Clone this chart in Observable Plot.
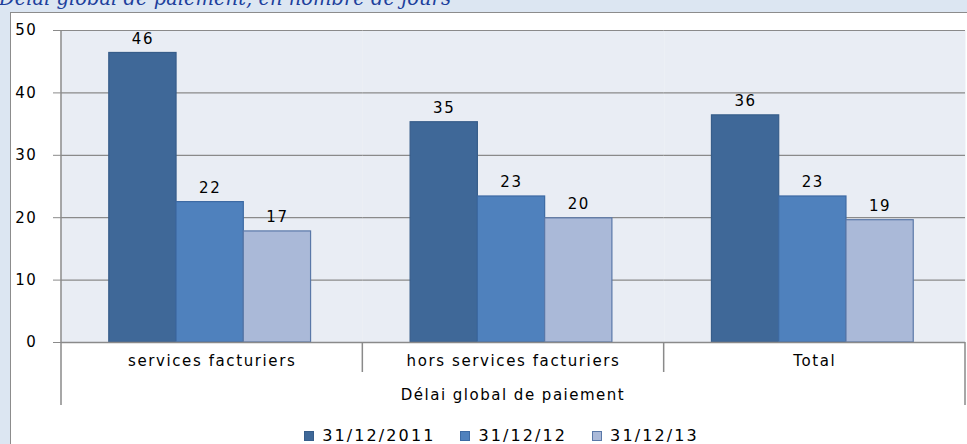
<!DOCTYPE html>
<html>
<head>
<meta charset="utf-8">
<script src="https://cdn.jsdelivr.net/npm/d3@7"></script>
<script src="https://cdn.jsdelivr.net/npm/@observablehq/plot@0.6"></script>
<style>
html,body{margin:0;padding:0;background:#dce6f2;}
#wrap{position:relative;width:967px;height:444px;overflow:hidden;background:#dce6f2;font-family:"DejaVu Sans",sans-serif;}
#panel{position:absolute;left:10px;top:12px;width:960px;height:440px;background:#fff;border-left:1px solid #8c8c8c;border-top:1px solid #8c8c8c;}
#title{position:absolute;left:-1px;top:-11px;line-height:20px;font:italic 19.5px/20px "DejaVu Serif",serif;color:#203f9c;white-space:nowrap;}
#chart{position:absolute;left:0;top:0;}
#xlabel{position:absolute;left:61px;width:904px;top:386px;text-align:center;font-size:15px;letter-spacing:1.5px;color:#000;}
#legend{position:absolute;left:18px;width:967px;top:426px;display:flex;justify-content:center;gap:25px;font-size:16px;letter-spacing:2.1px;color:#000;}
#legend .item{display:flex;align-items:center;gap:8px;}
#legend .sw{width:10px;height:10px;box-sizing:border-box;border:1px solid #365f8f;}
</style>
</head>
<body>
<div id="wrap">
  <div id="panel"></div>
  <div id="chart"></div>
  <div id="title">Délai global de paiement, en nombre de jours</div>
  <div id="xlabel">Délai global de paiement</div>
  <div id="legend"></div>
</div>
<script>
const categories = ["services facturiers", "hors services facturiers", "Total"];
const series = ["31/12/2011", "31/12/12", "31/12/13"];
const values2011 = [46.4, 35.3, 36.4];
const values2012 = [22.5, 23.4, 23.4];
const values2013 = [17.8, 19.9, 19.6];
const labels2011 = ["46", "35", "36"];
const labels2012 = ["22", "23", "23"];
const labels2013 = ["17", "20", "19"];
const yTicks = [0, 10, 20, 30, 40, 50];

const fills = ["#3f6898", "#4f81bd", "#aab9d8"];
const strokes = ["#375d8a", "#3d6aa3", "#5a78a8"];

const allValues = [values2011, values2012, values2013];
const allLabels = [labels2011, labels2012, labels2013];
const rows = [];
series.forEach((s, si) => {
  categories.forEach((c, ci) => {
    rows.push({cat: c, series: s, si, value: allValues[si][ci], label: allLabels[si][ci]});
  });
});

const W = 967, H = 444;
const plot = Plot.plot({
  width: W,
  height: H,
  marginLeft: 61,
  marginRight: 2,
  marginTop: 30,
  marginBottom: 102,
  style: {background: "transparent", fontFamily: "DejaVu Sans, sans-serif", color: "#000", overflow: "visible"},
  fx: {domain: categories, padding: 0, label: null, round: false},
  x: {domain: series, paddingInner: 0, paddingOuter: 0.74, align: 0.48, round: false, axis: null},
  y: {domain: [0, 50], axis: null},
  marks: [
    Plot.frame({fill: "#e9edf4", stroke: null}),
    Plot.gridY(yTicks.filter(d => d > 0), {stroke: "#8a8a8a", strokeOpacity: 1, strokeWidth: 1.2}),
    ...series.map((s, si) => Plot.barY(rows.filter(r => r.si === si), {
      fx: "cat", x: "series", y: "value",
      fill: fills[si], stroke: strokes[si], strokeWidth: 1.2
    })),
    Plot.ruleY([0], {stroke: "#8a8a8a", strokeWidth: 1.5}),
    Plot.text(rows, {fx: "cat", x: "series", y: "value", text: "label", dy: -14, fontSize: 15, fill: "#000"}),
    Plot.axisY({ticks: yTicks, anchor: "left", tickSize: 8, tickPadding: 16, fontSize: 15, stroke: "#8a8a8a", fill: "#000", label: null, tickFormat: d => String(d)}),
    Plot.axisFx({anchor: "bottom", tickSize: 0, tickPadding: 13, fontSize: 15, label: null})
  ]
});
document.getElementById("chart").appendChild(plot);

// axis lines & category separators using the fx and y scales
const svg = d3.select(plot);
const fx = plot.scale("fx");
const y = plot.scale("y");
const y0 = y.apply(0), yTop = y.apply(50);
const bounds = categories.map(c => fx.apply(c));
bounds.push(fx.apply(categories[categories.length - 1]) + fx.bandwidth);
const g = svg.append("g").attr("stroke", "#8a8a8a").attr("stroke-width", 1.5);
g.append("line").attr("x1", bounds[0]).attr("x2", bounds[0]).attr("y1", yTop).attr("y2", y0);
bounds.forEach((b, i) => {
  const outer = i === 0 || i === bounds.length - 1;
  g.append("line").attr("x1", b).attr("x2", b).attr("y1", y0).attr("y2", y0 + (outer ? 63 : 30));
});
svg.selectAll("text").style("letter-spacing", "1.6px");

// legend
const leg = document.getElementById("legend");
series.forEach((s, i) => {
  const it = document.createElement("div");
  it.className = "item";
  const sw = document.createElement("div");
  sw.className = "sw";
  sw.style.background = fills[i];
  sw.style.borderColor = strokes[i];
  const t = document.createElement("span");
  t.textContent = s;
  it.appendChild(sw); it.appendChild(t);
  leg.appendChild(it);
});
</script>
</body>
</html>
